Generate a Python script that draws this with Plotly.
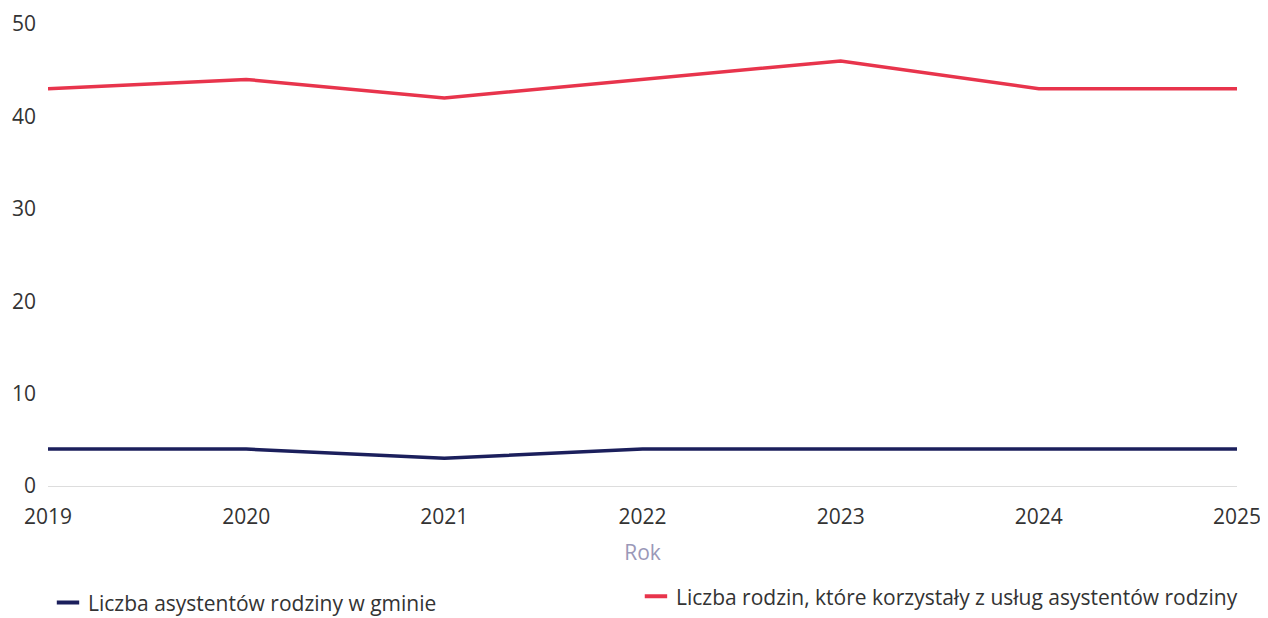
import plotly.graph_objects as go

years = [2019, 2020, 2021, 2022, 2023, 2024, 2025]
asystenci = [4, 4, 3, 4, 4, 4, 4]
rodziny = [43, 44, 42, 44, 46, 43, 43]

name_a = "Liczba asystentów rodziny w gminie"
name_r = "Liczba rodzin, które korzystały z usług asystentów rodziny"
col_a = "#1b1f5c"
col_r = "#e8344c"

fig = go.Figure()
fig.add_trace(go.Scatter(x=years, y=asystenci, mode="lines", name=name_a,
                         legendgroup="a", showlegend=False,
                         line=dict(color=col_a, width=3.5)))
fig.add_trace(go.Scatter(x=years, y=rodziny, mode="lines", name=name_r,
                         legendgroup="r", showlegend=False,
                         line=dict(color=col_r, width=3.5)))
# legend entries with short dash symbols
for nm, col, grp, lg in [(name_a, col_a, "a", "legend"), (name_r, col_r, "r", "legend2")]:
    fig.add_trace(go.Scatter(x=[None], y=[None], mode="markers", name=nm,
                             legendgroup=grp, showlegend=True, legend=lg,
                             marker=dict(symbol="line-ew", size=18,
                                         line=dict(color=col, width=4))))

leg_font = dict(family="Open Sans", size=21, color="#333333")
fig.update_layout(
    width=1260, height=610,
    margin=dict(l=40, r=31, t=16, b=132),
    paper_bgcolor="white", plot_bgcolor="white",
    font=dict(family="Open Sans", size=21, color="#333333"),
    xaxis=dict(range=[2019, 2025], dtick=1, tick0=2019, showgrid=False,
               zeroline=False, showline=False, ticks="", ticklabelstandoff=16,
               automargin=False,
               title=dict(text="Rok", font=dict(color="#9a98b8", size=21), standoff=16)),
    yaxis=dict(range=[0, 50], dtick=10, showgrid=False, zeroline=True,
               zerolinecolor="#dddddd", zerolinewidth=1, showline=False, ticks="",
               ticklabelstandoff=11, automargin=False),
    legend=dict(orientation="h", x=0, xanchor="left", yref="container",
                y=0.025, yanchor="middle", font=leg_font, bgcolor="rgba(0,0,0,0)"),
    legend2=dict(orientation="h", x=0.4945, xanchor="left", yref="container",
                 y=0.035, yanchor="middle", font=leg_font, bgcolor="rgba(0,0,0,0)"),
    showlegend=True,
)

fig.write_html("out.html")
